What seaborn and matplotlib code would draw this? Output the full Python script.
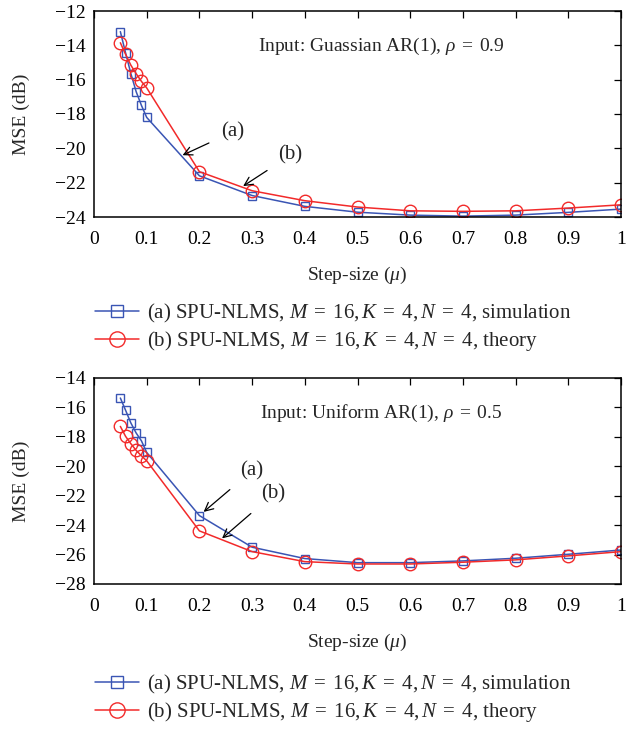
import pandas as pd
import seaborn as sns
import matplotlib.pyplot as plt

# step sizes (shared by both panels)
mu = [0.05, 0.06, 0.07, 0.08, 0.09, 0.1, 0.2, 0.3, 0.4, 0.5, 0.6, 0.7, 0.8, 0.9, 1.0]

# top panel: Gaussian AR(1), rho = 0.9
gauss_sim = [-13.2, -14.45, -15.65, -16.7, -17.5, -18.2, -21.6, -22.75, -23.38,
             -23.72, -23.89, -23.95, -23.89, -23.73, -23.54]
gauss_theory = [-13.85, -14.53, -15.16, -15.65, -16.1, -16.48, -21.36, -22.47, -23.05,
                -23.42, -23.64, -23.67, -23.64, -23.48, -23.29]

# bottom panel: Uniform AR(1), rho = 0.5
unif_sim = [-15.36, -16.2, -17.06, -17.74, -18.27, -19.06, -23.35, -25.5, -26.27,
            -26.55, -26.55, -26.43, -26.25, -25.98, -25.69]
unif_theory = [-17.29, -17.97, -18.47, -18.92, -19.29, -19.63, -24.39, -25.8, -26.48,
               -26.64, -26.64, -26.52, -26.36, -26.09, -25.8]

labels = [r"(a) SPU-NLMS, $M\;=\;16, K\;=\;4, N\;=\;4$, simulation",
          r"(b) SPU-NLMS, $M\;=\;16, K\;=\;4, N\;=\;4$, theory"]
titles = [r"Input: Guassian AR(1), $\rho\;=\;0.9$", r"Input: Uniform AR(1), $\rho\;=\;0.5$"]

sns.set_style("white")
plt.rcParams['font.family'] = ['Liberation Serif', 'DejaVu Serif']
plt.rcParams['mathtext.fontset'] = 'custom'
plt.rcParams['mathtext.rm'] = 'Liberation Serif'
plt.rcParams['mathtext.it'] = 'Liberation Serif:italic'

blue = '#3a55b4'
red = '#f22a2a'

fig = plt.figure(figsize=(6.35, 7.32), dpi=100)
W, H = 635, 732
# axes boxes in pixels: left, top, right, bottom
boxes = [(94, 11, 621, 217), (94, 378, 621, 584)]
ylims = [(-24, -12), (-28, -14)]
sims = [gauss_sim, unif_sim]
theos = [gauss_theory, unif_theory]
# annotation text pos and arrow tip (data coords)
ann = [
    [("(a)", (0.263, -19.05), (0.168, -20.4)), ("(b)", (0.373, -20.4), (0.283, -22.2))],
    [("(a)", (0.30, -20.3), (0.208, -23.1)), ("(b)", (0.34, -21.9), (0.243, -24.9))],
]
legend_y = [302, 673]

for i in range(2):
    l, t, r, b = boxes[i]
    ax = fig.add_axes([l / W, 1 - b / H, (r - l) / W, (b - t) / H])
    df_s = pd.DataFrame({'mu': mu, 'mse': sims[i]})
    df_t = pd.DataFrame({'mu': mu, 'mse': theos[i]})
    sns.lineplot(data=df_s, x='mu', y='mse', ax=ax, color=blue, lw=1.1, marker='s',
                 markersize=6, markerfacecolor='none', markeredgecolor=blue,
                 markeredgewidth=1.0, label=labels[0])
    sns.lineplot(data=df_t, x='mu', y='mse', ax=ax, color=red, lw=1.1, marker='o',
                 markersize=9, markerfacecolor='none', markeredgecolor=red,
                 markeredgewidth=1.0, label=labels[1])
    ax.set_xlim(0, 1)
    ax.set_ylim(*ylims[i])
    ax.set_xticks([0, 0.1, 0.2, 0.3, 0.4, 0.5, 0.6, 0.7, 0.8, 0.9, 1])
    ax.set_xticklabels(['0', '0.1', '0.2', '0.3', '0.4', '0.5', '0.6', '0.7', '0.8', '0.9', '1'])
    lo, hi = ylims[i]
    ax.set_yticks(range(lo, hi + 1, 2))
    ax.tick_params(direction='in', top=True, right=True, length=5, width=0.9,
                   labelsize=14, pad=6, colors='black')
    ax.tick_params(axis='x', pad=10)
    for sp in ax.spines.values():
        sp.set_color('black')
        sp.set_linewidth(1.1)
    ax.set_xlabel(r"Step-size ($\mu$)", fontsize=14, labelpad=12)
    ax.set_ylabel("MSE (dB)", fontsize=14, labelpad=18)
    ax.text(0.545, 0.83, titles[i], transform=ax.transAxes, ha='center', va='center',
            fontsize=14)
    for txt, tpos, tip in ann[i]:
        ax.annotate(txt, xy=tip, xytext=tpos, fontsize=15, ha='center', va='center',
                    arrowprops=dict(arrowstyle='->', color='black', lw=0.9,
                                    shrinkA=7, shrinkB=0))
    leg = ax.legend(loc='upper left', bbox_to_anchor=(95 / W, 1 - legend_y[i] / H),
                    bbox_transform=fig.transFigure, frameon=False, fontsize=15,
                    handlelength=2.1, labelspacing=0.2, handletextpad=0.4,
                    borderaxespad=0, borderpad=0)
    for h, ms in zip(leg.legend_handles, [9, 11]):
        h.set_markersize(ms)

fig.savefig("out.png", dpi=100)
